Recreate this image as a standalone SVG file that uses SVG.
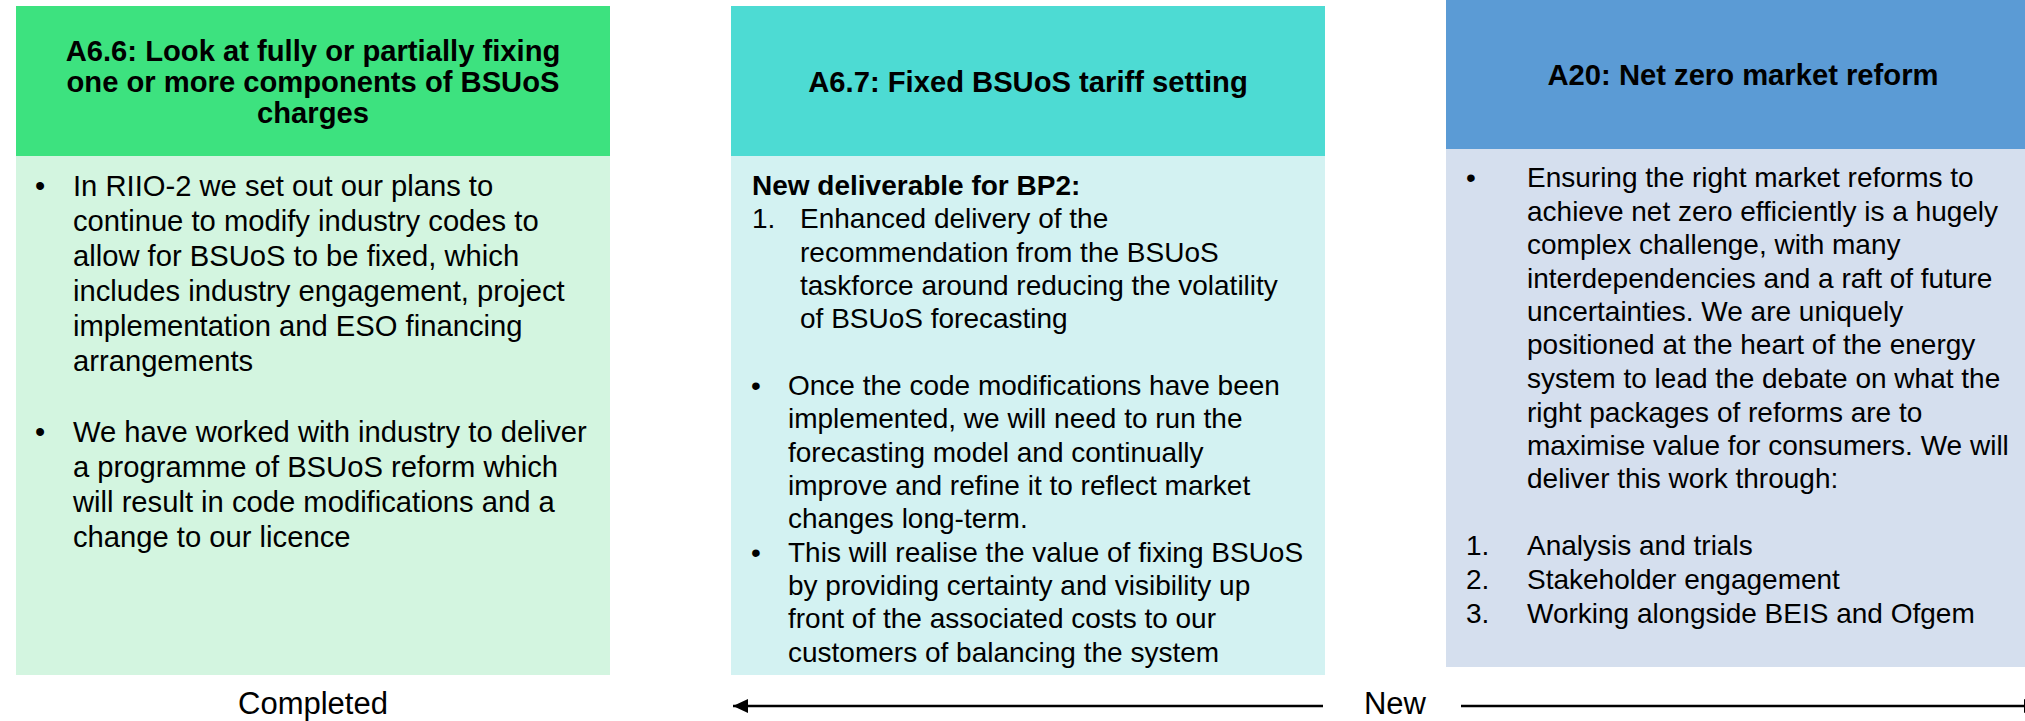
<svg xmlns="http://www.w3.org/2000/svg" width="2025" height="721" viewBox="0 0 2025 721">
<style>
text{font-family:"Liberation Sans",Arial,sans-serif;fill:#000}
.h{font-weight:bold;font-size:29.2px;text-anchor:middle}
.b1{font-size:29.2px}
.b{font-size:28px}
.bb{font-size:28px;font-weight:bold}
.lbl{font-size:31px;text-anchor:middle}
.ln{stroke:#000;stroke-width:2.6;fill:none}
</style>
<defs>
<marker id="ah" viewBox="0 0 15 14" refX="15" refY="7" markerWidth="15" markerHeight="14" markerUnits="userSpaceOnUse" orient="auto">
<path d="M0,0 L15,7 L0,14 Z" fill="#000"/>
</marker>
</defs>
<rect width="2025" height="721" fill="#fff"/>

<g id="node-a66">
<rect x="16" y="6" width="594" height="150" fill="#3DE27F"/>
<rect x="16" y="156" width="594" height="519" fill="#D3F5E0"/>
<text class="h" x="313" y="61">A6.6: Look at fully or partially fixing</text>
<text class="h" x="313" y="92">one or more components of BSUoS</text>
<text class="h" x="313" y="123">charges</text>
<g class="b1">
<text x="35" y="196">•</text>
<text x="73" y="196">In RIIO-2 we set out our plans to</text>
<text x="73" y="231">continue to modify industry codes to</text>
<text x="73" y="266">allow for BSUoS to be fixed, which</text>
<text x="73" y="301">includes industry engagement, project</text>
<text x="73" y="336">implementation and ESO financing</text>
<text x="73" y="371">arrangements</text>
<text x="35" y="442">•</text>
<text x="73" y="442">We have worked with industry to deliver</text>
<text x="73" y="477">a programme of BSUoS reform which</text>
<text x="73" y="512">will result in code modifications and a</text>
<text x="73" y="547">change to our licence</text>
</g>
</g>

<g id="node-a67">
<rect x="731" y="6" width="594" height="150" fill="#4DDBD3"/>
<rect x="731" y="156" width="594" height="519" fill="#D3F2F2"/>
<text class="h" x="1028" y="92">A6.7: Fixed BSUoS tariff setting</text>
<text class="bb" x="752" y="195">New deliverable for BP2:</text>
<g class="b">
<text x="752" y="228">1.</text>
<text x="800" y="228">Enhanced delivery of the</text>
<text x="800" y="262">recommendation from the BSUoS</text>
<text x="800" y="295">taskforce around reducing the volatility</text>
<text x="800" y="328">of BSUoS forecasting</text>
<text x="751" y="395">•</text>
<text x="788" y="395">Once the code modifications have been</text>
<text x="788" y="428">implemented, we will need to run the</text>
<text x="788" y="462">forecasting model and continually</text>
<text x="788" y="495">improve and refine it to reflect market</text>
<text x="788" y="528">changes long-term.</text>
<text x="751" y="562">•</text>
<text x="788" y="562">This will realise the value of fixing BSUoS</text>
<text x="788" y="595">by providing certainty and visibility up</text>
<text x="788" y="628">front of the associated costs to our</text>
<text x="788" y="662">customers of balancing the system</text>
</g>
</g>

<g id="node-a20">
<rect x="1446" y="-1" width="594" height="150" fill="#5B9BD5"/>
<rect x="1446" y="149" width="594" height="518" fill="#D5DFEE"/>
<text class="h" x="1743" y="85">A20: Net zero market reform</text>
<g class="b">
<text x="1466" y="187">•</text>
<text x="1527" y="187">Ensuring the right market reforms to</text>
<text x="1527" y="220.5">achieve net zero efficiently is a hugely</text>
<text x="1527" y="254">complex challenge, with many</text>
<text x="1527" y="287.5">interdependencies and a raft of future</text>
<text x="1527" y="321">uncertainties. We are uniquely</text>
<text x="1527" y="354">positioned at the heart of the energy</text>
<text x="1527" y="388">system to lead the debate on what the</text>
<text x="1527" y="421.5">right packages of reforms are to</text>
<text x="1527" y="455">maximise value for consumers. We will</text>
<text x="1527" y="488">deliver this work through:</text>
<text x="1466" y="555">1.</text>
<text x="1527" y="555">Analysis and trials</text>
<text x="1466" y="589">2.</text>
<text x="1527" y="589">Stakeholder engagement</text>
<text x="1466" y="623">3.</text>
<text x="1527" y="623">Working alongside BEIS and Ofgem</text>
</g>
</g>

<g id="label-completed">
<text class="lbl" x="313" y="714">Completed</text>
</g>
<g id="label-new">
<text class="lbl" x="1395" y="714">New</text>
</g>

<g id="connectors">
<line class="ln" x1="1323" y1="706" x2="733" y2="706" marker-end="url(#ah)"/>
<line class="ln" x1="1461" y1="706" x2="2039" y2="706" marker-end="url(#ah)"/>
</g>
</svg>
